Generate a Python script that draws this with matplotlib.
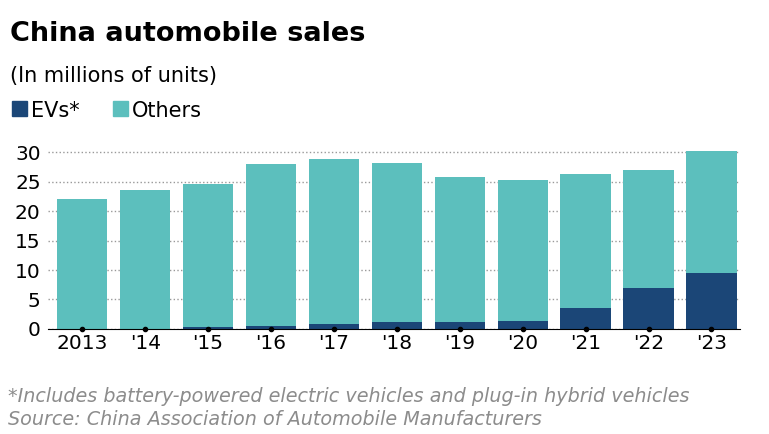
import numpy as np
from matplotlib import pyplot as plt
from matplotlib.patches import Rectangle

years = ["2013", "'14", "'15", "'16", "'17", "'18", "'19", "'20", "'21", "'22", "'23"]
totals = [21.98, 23.49, 24.6, 28.0, 28.9, 28.1, 25.8, 25.3, 26.3, 26.9, 30.1]
evs = [0.02, 0.07, 0.33, 0.5, 0.77, 1.26, 1.2, 1.37, 3.5, 6.9, 9.5]

ev_color = '#1b4677'
other_color = '#5cbfbd'


def plot_sales():
    # figure at the reference pixel size
    fig = plt.figure(figsize=(7.69, 4.34), dpi=100)
    ax = fig.add_axes([0.062, 0.242, 0.9, 0.413])
    x = np.arange(len(years))
    others = [t - e for t, e in zip(totals, evs)]

    ax.bar(x, evs, width=0.8, color=ev_color, zorder=2)
    ax.bar(x, others, width=0.8, bottom=evs, color=other_color, zorder=2)
    ax.plot(x, np.zeros(len(x)), 'o', color='black', markersize=3, zorder=3, clip_on=False)

    ax.set_ylim(0, 30.4)
    ax.set_xlim(-0.55, len(x) - 0.55)
    ax.set_yticks(range(0, 31, 5))
    ax.set_xticks(x)
    ax.set_xticklabels(years)
    ax.tick_params(axis='both', length=0, labelsize=14.5)
    ax.tick_params(axis='y', pad=5)
    ax.grid(axis='y', linestyle=':', color='#999999', linewidth=1, zorder=0)
    for s in ['left', 'right', 'top']:
        ax.spines[s].set_visible(False)
    ax.spines['bottom'].set_color('black')

    fig.text(0.013, 0.905, 'China automobile sales', fontsize=19.5, fontweight='bold')
    fig.text(0.013, 0.81, '(In millions of units)', fontsize=15)
    fig.patches.append(Rectangle((0.015, 0.733), 0.02, 0.035, color=ev_color, transform=fig.transFigure))
    fig.text(0.04, 0.731, 'EVs*', fontsize=15)
    fig.patches.append(Rectangle((0.147, 0.733), 0.02, 0.035, color=other_color, transform=fig.transFigure))
    fig.text(0.172, 0.731, 'Others', fontsize=15)
    fig.text(0.01, 0.073, '*Includes battery-powered electric vehicles and plug-in hybrid vehicles',
             fontsize=13.8, style='italic', color='#8c8c8c')
    fig.text(0.01, 0.02, 'Source: China Association of Automobile Manufacturers',
             fontsize=13.8, style='italic', color='#8c8c8c')

    plt.savefig('out.png')
    plt.close(fig)


plot_sales()
